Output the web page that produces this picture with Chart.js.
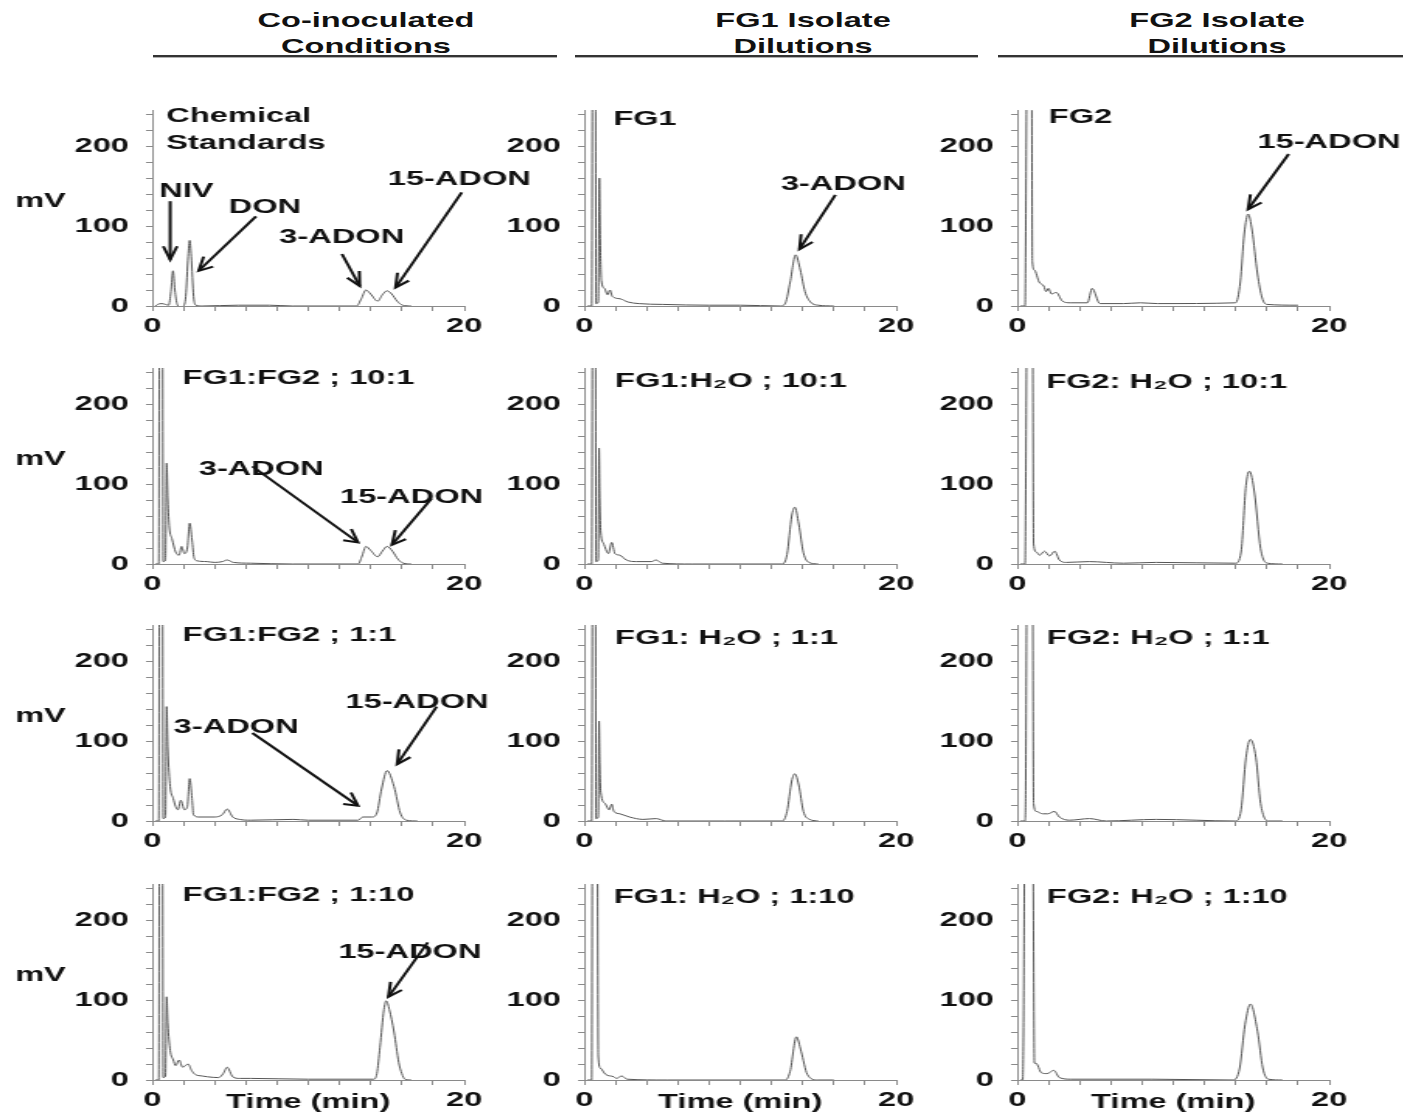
<!DOCTYPE html>
<html>
<head>
<meta charset="utf-8">
<script src="https://cdn.jsdelivr.net/npm/chart.js@4.4.1/dist/chart.umd.min.js"></script>
<style>
  body { margin: 0; background: #fff; }
  #page { position: relative; width: 1406px; height: 1116px; overflow: hidden; background: #fff; }
  #page canvas { position: absolute; transform-origin: 0 0; }
  .hdr {
    position: absolute; white-space: nowrap; text-align: center; color: #111;
    font: bold 21px "Liberation Sans", Arial, sans-serif; line-height: 26px;
    transform: translateX(-50%) scaleX(1.55);
  }
  .rule { position: absolute; top: 55px; height: 0; border-top: 2px solid #333; border-bottom: 1px solid #b0b0b0; }
</style>
</head>
<body>
<div id="page">
  <div class="hdr" style="left:366px;top:7px">Co-inoculated<br>Conditions</div>
  <div class="hdr" style="left:803px;top:7px">FG1 Isolate<br>Dilutions</div>
  <div class="hdr" style="left:1217px;top:7px">FG2 Isolate<br>Dilutions</div>
  <div class="rule" style="left:153px;width:404px"></div>
  <div class="rule" style="left:575px;width:403px"></div>
  <div class="rule" style="left:998px;width:405px"></div>
</div>
<script>
'use strict';

// axis ticks
const xLabels = [0, 20];
const yLabels = [0, 100, 200];

// traces, [time (min), mV]
const chemStd = [[0.2,0],[0.35,2],[0.6,3],[0.85,2],[1.05,1],[1.2,18],[1.33,44],[1.45,20],[1.6,2],[1.8,-1],[2.0,0],[2.15,12],[2.3,62],[2.4,82],[2.5,62],[2.65,12],[2.8,1],[3.2,0],[5.5,1],[7.5,1],[9,0],[13.1,0],[13.4,9],[13.7,20],[14.0,15],[14.45,6],[14.75,14],[15.05,19],[15.35,15],[15.7,6],[16.05,1],[16.6,0]];
const fg1Only = [[0.2,0],[0.48,0],[0.53,300],[0.72,300],[0.76,3],[0.9,5],[0.97,160],[1.03,80],[1.1,32],[1.3,22],[1.5,14],[1.65,20],[1.8,12],[2.3,9],[2.8,5],[3.5,3],[5,2],[8,1],[10,1],[12.6,0],[12.9,4],[13.2,30],[13.55,64],[13.85,45],[14.15,18],[14.5,5],[15,1],[16,0]];
const fg2Only = [[0.2,0],[0.5,0],[0.54,80],[0.62,300],[0.92,300],[0.97,56],[1.1,45],[1.4,30],[1.7,25],[1.85,18],[2.0,22],[2.2,15],[2.5,17],[2.9,6],[3.4,4],[4.5,4],[4.8,22],[5.3,3],[6.8,3],[7.9,4],[9,3],[14.0,4],[14.3,30],[14.55,90],[14.8,115],[15.05,95],[15.4,40],[15.7,10],[16.0,2],[18,1]];
const mix10to1 = [[0.2,0],[0.42,0],[0.46,300],[0.66,300],[0.7,3],[0.85,5],[0.92,126],[1.0,80],[1.1,45],[1.26,32],[1.5,15],[1.72,11],[1.88,22],[2.06,13],[2.25,20],[2.4,51],[2.55,30],[2.68,8],[2.87,4],[3.5,3],[4.0,2],[4.5,3],[4.8,5],[5.2,2],[6.3,1],[9,0],[13.2,0],[13.45,10],[13.7,22],[14.0,17],[14.45,9],[14.75,16],[15.05,22],[15.4,16],[15.75,6],[16.1,1],[16.6,0]];
const fg1Water10to1 = [[0.2,0],[0.48,0],[0.53,300],[0.72,300],[0.76,3],[0.9,5],[0.95,145],[1.0,80],[1.06,40],[1.23,26],[1.55,13],[1.76,27],[1.97,13],[2.28,11],[2.7,5],[3.35,3],[4.3,3],[4.6,5],[5.0,1],[6.9,0],[12.7,0],[13.0,12],[13.3,60],[13.5,71],[13.75,50],[14.05,14],[14.4,2],[15,0]];
const fg2Water10to1 = [[0.2,0],[0.5,0],[0.54,80],[0.62,300],[0.98,300],[1.05,25],[1.22,15],[1.43,11],[1.75,16],[2.07,10],[2.4,16],[2.7,5],[3.14,2],[4.6,3],[6.8,1],[8.9,2],[14.0,1],[14.35,15],[14.66,98],[14.88,116],[15.2,90],[15.6,19],[16.05,1],[17,0]];
const mix1to1 = [[0.2,0],[0.42,0],[0.46,300],[0.66,300],[0.7,3],[0.85,5],[0.92,143],[1.0,90],[1.15,43],[1.35,28],[1.5,18],[1.65,14],[1.83,26],[2.06,14],[2.25,18],[2.4,53],[2.55,28],[2.64,8],[2.98,5],[4.0,5],[4.5,8],[4.8,15],[5.16,5],[5.6,2],[6.3,1],[9.05,2],[10,1],[13.2,1],[13.5,5],[14.1,5],[14.4,10],[14.7,40],[15.05,63],[15.5,43],[15.9,10],[16.3,1],[17,0]];
const fg1Water1to1 = [[0.2,0],[0.48,0],[0.53,300],[0.72,300],[0.76,3],[0.9,5],[0.95,125],[1.0,70],[1.06,36],[1.33,22],[1.6,14],[1.76,21],[1.9,12],[2.28,9],[2.9,5],[3.77,2],[4.6,3],[5.25,0],[9,0],[12.7,0],[13.0,12],[13.3,50],[13.5,59],[13.75,45],[14.05,12],[14.45,2],[15,0]];
const fg2Water1to1 = [[0.2,0],[0.5,0],[0.54,38],[0.62,300],[0.98,300],[1.05,22],[1.22,12],[1.64,9],[1.96,9],[2.39,12],[2.7,5],[3.35,1],[4.63,3],[5.7,0],[8.9,2],[14.0,0],[14.35,14],[14.66,79],[14.94,102],[15.3,79],[15.6,22],[16.1,0],[17,0]];
const mix1to10 = [[0.2,0],[0.42,0],[0.46,300],[0.66,300],[0.7,3],[0.85,5],[0.92,104],[1.0,70],[1.15,37],[1.35,25],[1.5,18],[1.72,25],[1.95,16],[2.3,20],[2.52,12],[2.75,7],[3.2,5],[3.55,4],[4.25,3],[4.55,8],[4.8,16],[5.16,4],[5.6,2],[6.3,2],[10,1],[14.2,1],[14.4,8],[14.6,41],[14.85,88],[15.0,99],[15.2,88],[15.5,60],[15.8,22],[16.0,8],[16.2,1],[16.6,0]];
const fg1Water1to10 = [[0.2,0],[0.48,0],[0.52,300],[0.84,300],[0.9,30],[1.03,15],[1.37,7],[1.9,4],[2.06,2],[2.4,5],[2.75,1],[5.3,0],[12.9,0],[13.2,11],[13.6,54],[13.9,36],[14.3,7],[14.95,0],[16,0]];
const fg2Water1to10 = [[0.2,0],[0.35,0],[0.4,60],[0.48,300],[1.0,300],[1.1,21],[1.2,21],[1.55,9],[1.9,8],[2.35,12],[2.7,3],[3.46,1],[8.65,1],[13.84,0],[14.26,15],[14.6,69],[14.95,95],[15.4,61],[15.74,15],[16.1,1],[17,0]];

// grid of panels, row by row
const traces = [
  chemStd, fg1Only, fg2Only,
  mix10to1, fg1Water10to1, fg2Water10to1,
  mix1to1, fg1Water1to1, fg2Water1to1,
  mix1to10, fg1Water1to10, fg2Water1to10
];

// [text, time, mV] labels inside each panel
const notes = [
  [['Chemical',0.9,237],['Standards',0.9,204],['NIV',0.46,144],['DON',4.9,124],['3-ADON',8.14,86],['15-ADON',15.1,159]],
  [['FG1',1.86,234],['3-ADON',12.6,152]],
  [['FG2',2.02,236],['15-ADON',15.4,205]],
  [['FG1:FG2 ; 10:1',1.95,232],['3-ADON',2.98,118],['15-ADON',12.04,84]],
  [['FG1:H\u2082O ; 10:1',1.97,229]],
  [['FG2: H\u2082O ; 10:1',1.86,227]],
  [['FG1:FG2 ; 1:1',1.95,232],['3-ADON',1.38,117],['15-ADON',12.39,149]],
  [['FG1: H\u2082O ; 1:1',1.97,229]],
  [['FG2: H\u2082O ; 1:1',1.9,228]],
  [['FG1:FG2 ; 1:10',1.95,231],['15-ADON',11.93,160]],
  [['FG1: H\u2082O ; 1:10',1.89,228]],
  [['FG2: H\u2082O ; 1:10',1.9,228]]
];

// arrows: [fromTime, fromMv, toTime, toMv]
const arrows = [
  [[1.15,131,1.15,58],[6.65,112,2.98,44],[12.16,65,13.3,25],[19.84,142,15.6,23]],
  [[16.1,139,13.8,71]],
  [[17.4,190,14.8,121]],
  [[6.42,122,13.19,27],[17.9,82,15.37,24]],
  [], [],
  [[6.42,110,13.19,19],[18.23,143,15.7,71]],
  [], [],
  [[17.66,172,15.14,104]],
  [], []
];

const colAxisX = [152, 584, 1017];   // page x of time 0
const rowZeroY = [306, 564, 821, 1080]; // page y of 0 mV
const STRETCH = 312 / 201;
const FONT = 'bold 21px "Liberation Sans", Arial, "DejaVu Sans", sans-serif';
const INK = '#111';
const AXIS = '#8a8a8a';

function drawArrow(ctx, x1, y1, x2, y2) {
    ctx.beginPath();
    ctx.moveTo(x1, y1);
    ctx.lineTo(x2, y2);
    ctx.stroke();
    // head is worked out in page space, then squeezed back
    const ang = Math.atan2(y2 - y1, (x2 - x1) * STRETCH);
    const len = 15, spread = 0.48;
    ctx.beginPath();
    ctx.moveTo(x2 + Math.cos(ang + Math.PI - spread) * len / STRETCH, y2 + Math.sin(ang + Math.PI - spread) * len);
    ctx.lineTo(x2, y2);
    ctx.lineTo(x2 + Math.cos(ang + Math.PI + spread) * len / STRETCH, y2 + Math.sin(ang + Math.PI + spread) * len);
    ctx.stroke();
}

function notesPlugin(idx, row, col) {
    return {
        id: 'notes',
        afterDraw(chart) {
            const ctx = chart.ctx, xs = chart.scales.x, ys = chart.scales.y;
            ctx.save();
            ctx.fillStyle = INK;
            ctx.strokeStyle = INK;
            ctx.font = FONT;
            ctx.textBaseline = 'middle';
            ctx.textAlign = 'left';
            notes[idx].forEach(n => ctx.fillText(n[0], xs.getPixelForValue(n[1]), ys.getPixelForValue(n[2])));
            ctx.textAlign = 'center';
            if (col === 0) {
                ctx.fillText('mV', chart.chartArea.left - 72, ys.getPixelForValue(131));
            }
            if (row === 3) {
                ctx.fillText('Time (min)', xs.getPixelForValue(10), xs.top + 22);
            }
            ctx.lineWidth = 2;
            arrows[idx].forEach(a => drawArrow(ctx,
                xs.getPixelForValue(a[0]), ys.getPixelForValue(a[1]),
                xs.getPixelForValue(a[2]), ys.getPixelForValue(a[3])));
            ctx.restore();
        }
    };
}

function makePanel(idx) {
    const row = Math.floor(idx / 3), col = idx % 3;
    const canvas = document.createElement('canvas');
    canvas.width = 361;
    canvas.height = 266;
    canvas.style.left = (colAxisX[col] - 100 * STRETCH) + 'px';
    canvas.style.top = (rowZeroY[row] - 221) + 'px';
    canvas.style.transform = 'scaleX(' + STRETCH + ')';
    document.getElementById('page').appendChild(canvas);

    const tickFont = { family: '"Liberation Sans", Arial, sans-serif', weight: 'bold', size: 21 };

    new Chart(canvas, {
        type: 'line',
        data: {
            datasets: [{
                data: traces[idx].map(p => ({ x: p[0], y: p[1] })),
                borderColor: '#555',
                borderWidth: 1,
                pointRadius: 0,
                cubicInterpolationMode: 'monotone',
                fill: false
            }]
        },
        options: {
            responsive: false,
            animation: false,
            events: [],
            layout: { padding: { left: 45, right: 60, top: 25, bottom: 5 } },
            plugins: { legend: { display: false }, tooltip: { enabled: false } },
            scales: {
                x: {
                    type: 'linear', min: 0, max: 20,
                    afterFit: s => { s.height = 40; },
                    border: { color: AXIS, width: 1 },
                    grid: { drawOnChartArea: false, tickLength: 5, color: AXIS },
                    ticks: {
                        stepSize: 2, autoSkip: false, maxRotation: 0, padding: 3,
                        color: INK, font: tickFont,
                        callback: v => xLabels.includes(v) ? String(v) : ''
                    }
                },
                y: {
                    min: 0, max: 245,
                    afterFit: s => { s.width = 55; },
                    border: { color: AXIS, width: 1 },
                    grid: { drawOnChartArea: false, tickLength: 4, color: AXIS },
                    ticks: {
                        stepSize: 20, includeBounds: false, autoSkip: false, padding: 11,
                        color: INK, font: tickFont,
                        callback: v => yLabels.includes(v) ? String(v) : ''
                    }
                }
            }
        },
        plugins: [notesPlugin(idx, row, col)]
    });
}

traces.forEach((t, i) => makePanel(i));
</script>
</body>
</html>
